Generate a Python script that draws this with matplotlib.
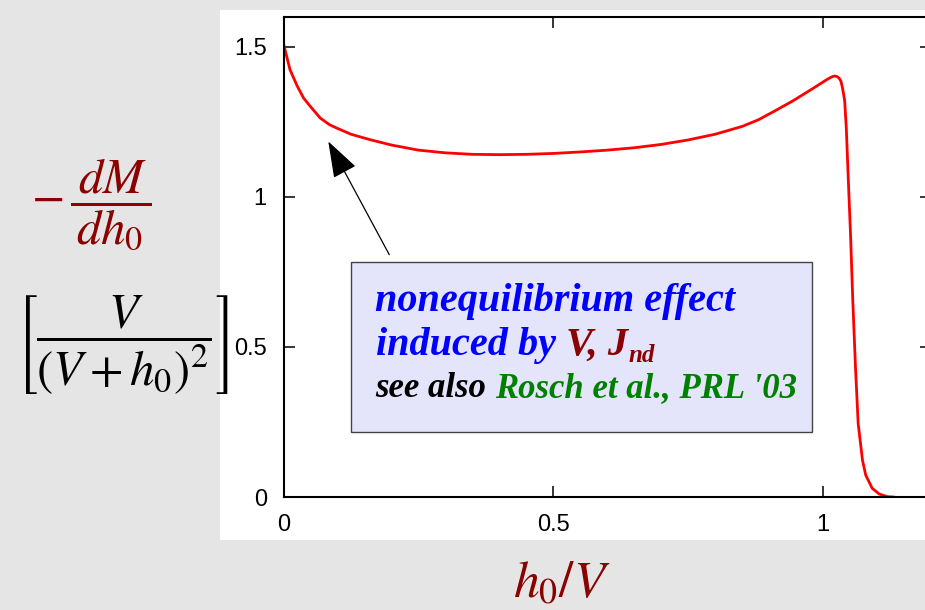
import matplotlib
matplotlib.use("Agg")
import matplotlib.pyplot as plt
from matplotlib.patches import Rectangle

plt.rcParams["mathtext.fontset"] = "stix"

# magnetisation derivative vs. field
h0_over_V = [0.000, 0.012, 0.025, 0.037, 0.050, 0.068, 0.085, 0.098, 0.125,
             0.160, 0.200, 0.250, 0.300, 0.350, 0.400, 0.450, 0.500, 0.550,
             0.600, 0.650, 0.700, 0.750, 0.800, 0.850, 0.880, 0.910, 0.943,
             0.980, 1.000, 1.008, 1.015, 1.021, 1.026, 1.030, 1.033, 1.036,
             1.040, 1.043, 1.047, 1.051, 1.055, 1.060, 1.065, 1.073, 1.079,
             1.091, 1.104, 1.119, 1.130]
dM_dh0 = [1.510, 1.423, 1.370, 1.329, 1.300, 1.262, 1.240, 1.229, 1.208,
          1.190, 1.172, 1.155, 1.146, 1.141, 1.140, 1.141, 1.144, 1.149,
          1.155, 1.163, 1.174, 1.189, 1.208, 1.234, 1.256, 1.285, 1.318,
          1.359, 1.382, 1.391, 1.398, 1.402, 1.400, 1.394, 1.385, 1.362,
          1.320, 1.230, 1.046, 0.868, 0.657, 0.434, 0.245, 0.123, 0.073,
          0.029, 0.010, 0.001, 0.000]

x_ticks = [0, 0.5, 1]
x_tick_labels = ["0", "0.5", "1"]
y_ticks = [0, 0.5, 1, 1.5]
y_tick_labels = ["0", "0.5", "1", "1.5"]

W, H = 925, 610
DARKRED = "#8b0000"


def fpos(x, y):
    """pixel position (from top-left) -> figure fraction"""
    return x / W, 1 - y / H


fig = plt.figure(figsize=(W / 100, H / 100), dpi=100)
fig.patch.set_facecolor("#e5e5e5")

# white panel behind the plot
fig.add_artist(Rectangle(fpos(220, 540), (W - 220) / W + 0.01, 530 / H,
                         transform=fig.transFigure, facecolor="white",
                         edgecolor="none", zorder=0))

ax = fig.add_axes([283.5 / W, (H - 497) / H, 647.5 / W, 480.5 / H])
ax.set_facecolor("white")
ax.set_zorder(1)
ax.plot(h0_over_V, dM_dh0, color="red", lw=2.0, solid_joinstyle="round")
ax.set_xlim(0, 1.2)
ax.set_ylim(0, 1.6)
ax.set_xticks(x_ticks)
ax.set_xticklabels(x_tick_labels)
ax.set_yticks(y_ticks)
ax.set_yticklabels(y_tick_labels)
ax.tick_params(direction="in", length=8, width=1.1, top=True, right=True,
               labelsize=17, pad=12)
for lab in ax.get_xticklabels() + ax.get_yticklabels():
    lab.set_fontfamily("Liberation Sans")
for sp in ax.spines.values():
    sp.set_linewidth(1.5)

# annotation box
ax.add_patch(Rectangle((0.126, 0.218), 0.854, 0.566, facecolor="#e4e4fb",
                       edgecolor="#444444", lw=1.0, zorder=3))
ax.annotate("", xy=(0.083, 1.184), xytext=(0.196, 0.807),
            arrowprops=dict(arrowstyle="-|>,head_length=2.3,head_width=0.8",
                            mutation_scale=10, lw=0.9, color="black",
                            shrinkA=0, shrinkB=0), zorder=4)

fig.canvas.draw()
renderer = fig.canvas.get_renderer()
font = dict(family="Liberation Serif", weight="bold", style="italic")


def text_run(x, y, pieces):
    """draw consecutive text pieces starting at pixel (x, baseline y)"""
    for s, color, size, dy in pieces:
        t = fig.text(*fpos(x, y + dy), s, color=color, fontsize=size,
                     va="baseline", ha="left", zorder=5, **font)
        bb = t.get_window_extent(renderer)
        x += bb.width


text_run(375, 311, [("nonequilibrium effect", "blue", 29, 0)])
text_run(376, 355, [("induced by ", "blue", 29, 0),
                    ("V, J", DARKRED, 29, 0),
                    ("nd", DARKRED, 18, 7)])
text_run(375, 397, [("see also ", "black", 25, 0),
                    ("Rosch et al., PRL '03", "#008000", 25, 0)])

# axis labels
fig.text(*fpos(91, 205), r"$-\,\dfrac{\,dM\,}{\,dh_0\,}$", color=DARKRED,
         fontsize=35, ha="center", va="center")
fig.text(*fpos(122, 345), r"$\left[\dfrac{V}{(V+h_0)^2}\right]$",
         color="black", fontsize=35, ha="center", va="center")
fig.text(*fpos(562, 584), r"$h_0/V$", color=DARKRED, fontsize=37,
         ha="center", va="center")

fig.savefig("out.png", dpi=100, facecolor=fig.get_facecolor())
